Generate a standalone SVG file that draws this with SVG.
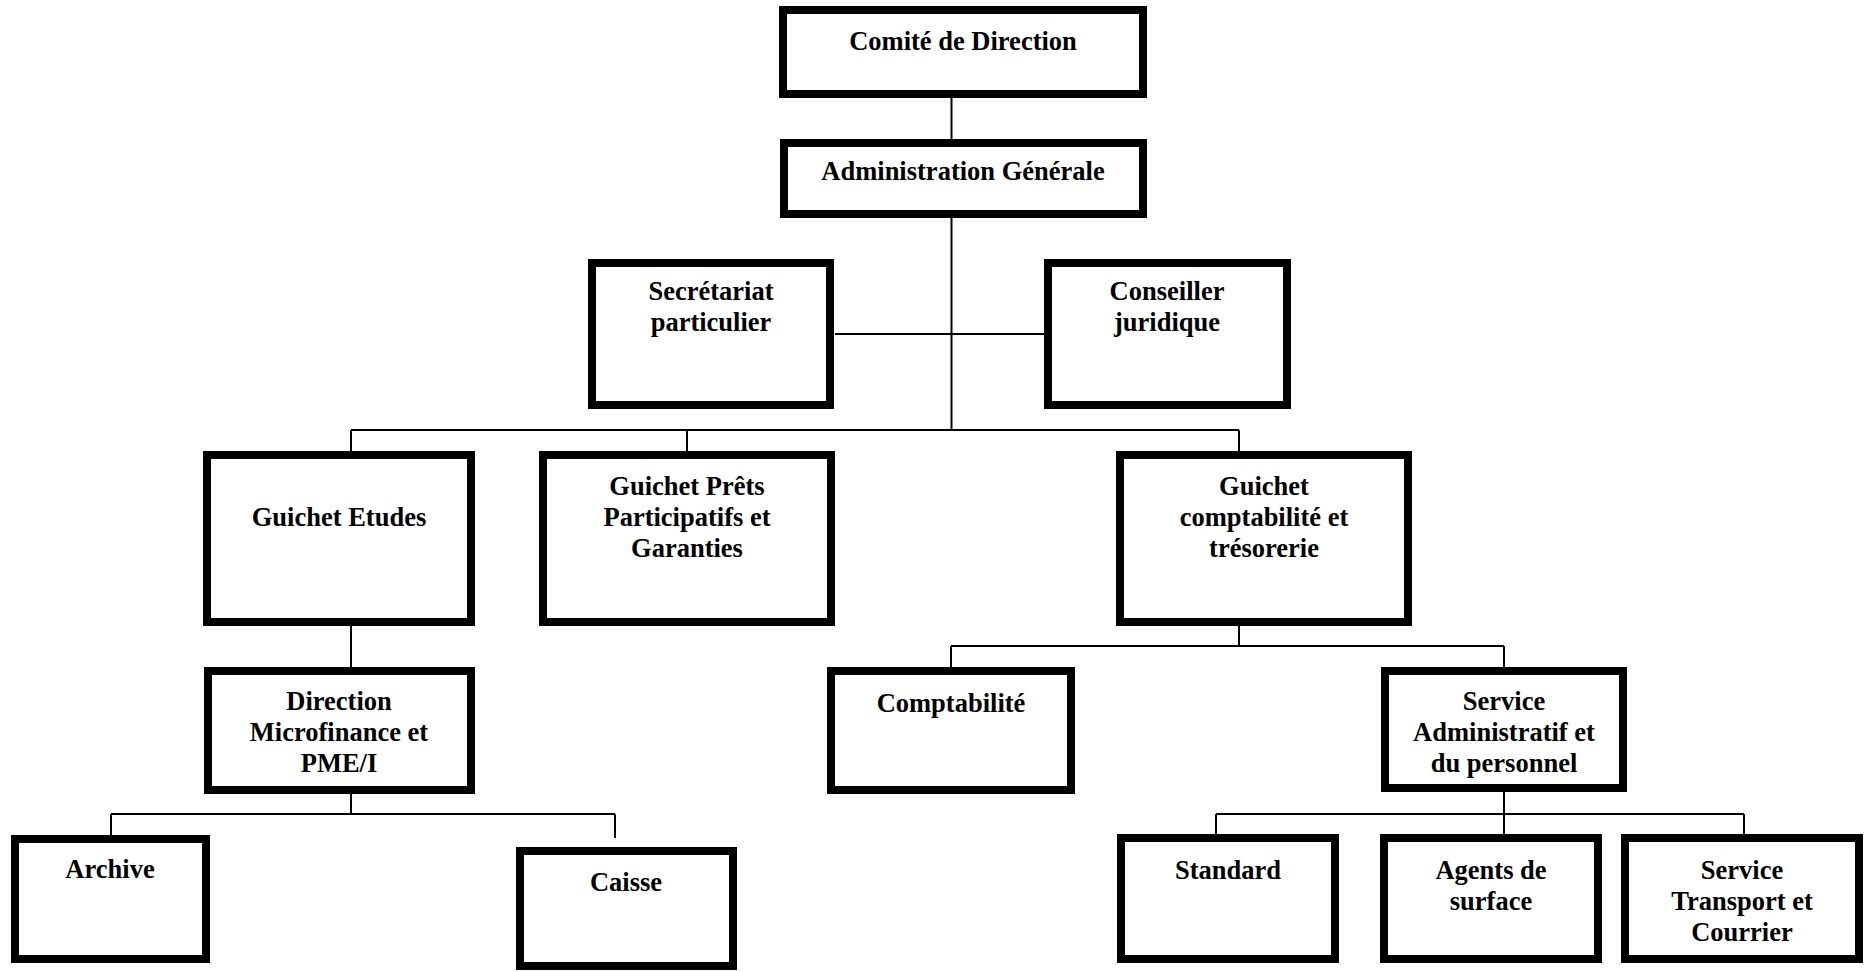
<svg xmlns="http://www.w3.org/2000/svg" width="1865" height="972" viewBox="0 0 1865 972">
<style>
.box{fill:#fff;stroke:#000;stroke-width:8}
.t{font-family:"Liberation Serif","Times New Roman",serif;font-weight:bold;font-size:26.5px;text-anchor:middle;fill:#000}
.c{fill:none;stroke:#000;stroke-width:2}
</style>
<rect width="1865" height="972" fill="#fff"/>
<g id="connectors">
<path class="c" d="M951.5 98V139M951.5 218V430M835 334H1044M351 430H1239M351 430V451M687 430V451M1239 430V451"/>
<path class="c" d="M351 626V667M351 794V814M111 814H615M111 814V835M615 814V838"/>
<path class="c" d="M1239 626V646M951 646H1504M951 646V667M1504 646V667"/>
<path class="c" d="M1504 792V834M1216 814H1744M1216 814V834M1744 814V834"/>
</g>
<g id="comite"><rect class="box" x="783" y="10" width="360" height="84"/><text class="t" x="963" y="50">Comité de Direction</text></g>
<g id="admin"><rect class="box" x="784" y="143" width="359" height="71"/><text class="t" x="963" y="180">Administration Générale</text></g>
<g id="secretariat"><rect class="box" x="592" y="263" width="238" height="142"/><text class="t" x="711" y="300">Secrétariat</text><text class="t" x="711" y="331">particulier</text></g>
<g id="conseiller"><rect class="box" x="1048" y="263" width="239" height="142"/><text class="t" x="1167" y="300">Conseiller</text><text class="t" x="1167" y="331">juridique</text></g>
<g id="guichet-etudes"><rect class="box" x="207" y="455" width="264" height="167"/><text class="t" x="339" y="526">Guichet Etudes</text></g>
<g id="guichet-prets"><rect class="box" x="543" y="455" width="288" height="167"/><text class="t" x="687" y="495">Guichet Prêts</text><text class="t" x="687" y="526">Participatifs et</text><text class="t" x="687" y="557">Garanties</text></g>
<g id="guichet-compta"><rect class="box" x="1120" y="455" width="288" height="167"/><text class="t" x="1264" y="495">Guichet</text><text class="t" x="1264" y="526">comptabilité et</text><text class="t" x="1264" y="557">trésorerie</text></g>
<g id="direction-micro"><rect class="box" x="208" y="671" width="263" height="119"/><text class="t" x="339" y="710">Direction</text><text class="t" x="339" y="741">Microfinance et</text><text class="t" x="339" y="772">PME/I</text></g>
<g id="comptabilite"><rect class="box" x="831" y="671" width="240" height="119"/><text class="t" x="951" y="712">Comptabilité</text></g>
<g id="service-admin"><rect class="box" x="1385" y="671" width="238" height="117"/><text class="t" x="1504" y="710">Service</text><text class="t" x="1504" y="741">Administratif et</text><text class="t" x="1504" y="772">du personnel</text></g>
<g id="archive"><rect class="box" x="15" y="839" width="191" height="120"/><text class="t" x="110" y="878">Archive</text></g>
<g id="caisse"><rect class="box" x="520" y="851" width="213" height="115"/><text class="t" x="626" y="891">Caisse</text></g>
<g id="standard"><rect class="box" x="1121" y="838" width="214" height="121"/><text class="t" x="1228" y="879">Standard</text></g>
<g id="agents"><rect class="box" x="1384" y="838" width="214" height="121"/><text class="t" x="1491" y="879">Agents de</text><text class="t" x="1491" y="910">surface</text></g>
<g id="service-transport"><rect class="box" x="1625" y="838" width="234" height="121"/><text class="t" x="1742" y="879">Service</text><text class="t" x="1742" y="910">Transport et</text><text class="t" x="1742" y="941">Courrier</text></g>
</svg>
